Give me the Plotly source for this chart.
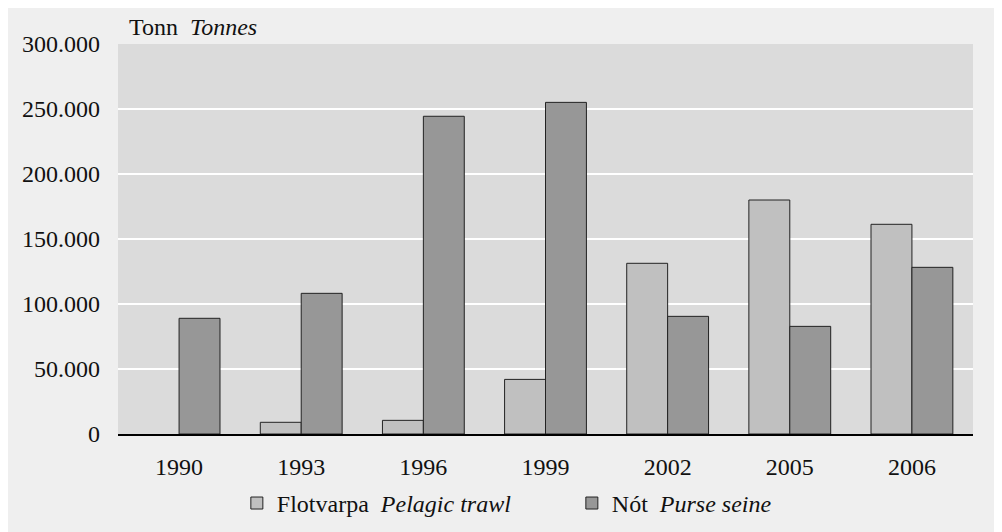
import plotly.graph_objects as go

years = ["1990", "1993", "1996", "1999", "2002", "2005", "2006"]
pelagic_trawl = [None, 9000, 10500, 42000, 131300, 180000, 161300]
purse_seine = [89000, 108200, 244400, 255100, 90500, 82800, 128200]
y_ticks = [0, 50000, 100000, 150000, 200000, 250000, 300000]
y_tick_labels = ["0", "50.000", "100.000", "150.000", "200.000", "250.000", "300.000"]

FONT = "Liberation Serif"

fig = go.Figure()
fig.add_trace(go.Bar(
    x=years, y=pelagic_trawl, name="Flotvarpa  <i>Pelagic trawl</i>",
    marker=dict(color="#c0c0c0", line=dict(color="#222222", width=1)),
))
fig.add_trace(go.Bar(
    x=years, y=purse_seine, name="Nót  <i>Purse seine</i>",
    marker=dict(color="#979797", line=dict(color="#222222", width=1)),
))

fig.update_layout(
    width=1002, height=532,
    margin=dict(l=110, r=37, t=36, b=106),
    paper_bgcolor="#efefef",
    plot_bgcolor="#dbdbdb",
    barmode="group",
    bargap=0.33,
    bargroupgap=0,
    font=dict(family=FONT, size=24, color="#111111"),
    showlegend=True,
    legend=dict(
        orientation="h", x=0.139, xanchor="left", y=-0.178, yanchor="middle",
        bgcolor="rgba(0,0,0,0)", font=dict(family=FONT, size=24, color="#111111"),
        entrywidth=290, entrywidthmode="pixels", itemwidth=30,
    ),
    xaxis=dict(
        showline=True, linecolor="#000000", linewidth=1.5,
        ticks="", tickfont=dict(family=FONT, size=24), showgrid=False,
        ticklabelstandoff=10,
    ),
    yaxis=dict(
        range=[0, 300000], tickvals=y_ticks, ticktext=y_tick_labels,
        showgrid=True, gridcolor="#ffffff", gridwidth=2,
        zeroline=False, showline=False, ticks="", ticklen=0,
        tickfont=dict(family=FONT, size=24), ticklabelstandoff=17,
    ),
    annotations=[dict(
        text="Tonn  <i>Tonnes</i>", xref="paper", yref="paper",
        x=0.0105, y=1.0, xanchor="left", yanchor="bottom", yshift=2,
        showarrow=False, font=dict(family=FONT, size=24, color="#111111"),
    )],
)

fig.write_html("out.html")
